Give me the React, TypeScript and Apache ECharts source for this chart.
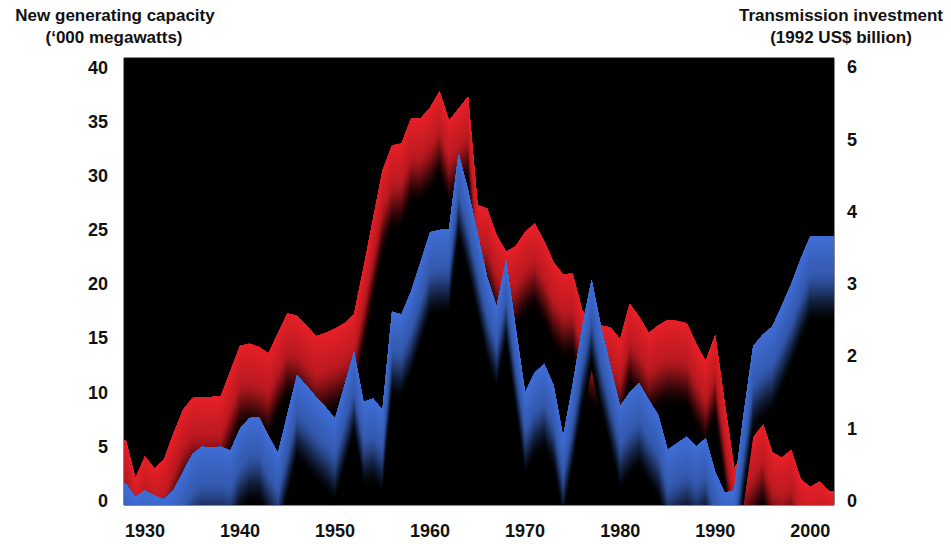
import React, { useEffect, useRef } from "react";
import * as echarts from "echarts";

const years = [
  1928, 1929, 1930, 1931, 1932, 1933, 1934, 1935, 1936, 1937,
  1938, 1939, 1940, 1941, 1942, 1943, 1944, 1945, 1946, 1947,
  1948, 1949, 1950, 1951, 1952, 1953, 1954, 1955, 1956, 1957,
  1958, 1959, 1960, 1961, 1962, 1963, 1964, 1965, 1966, 1967,
  1968, 1969, 1970, 1971, 1972, 1973, 1974, 1975, 1976, 1977,
  1978, 1979, 1980, 1981, 1982, 1983, 1984, 1985, 1986, 1987,
  1988, 1989, 1990, 1991, 1992, 1993, 1994, 1995, 1996, 1997,
  1998, 1999, 2000, 2001, 2002,
];

// New generating capacity ('000 MW), left axis
const capacity = [
  5.6, 2.1, 4.1, 3.0, 3.8, 6.2, 8.4, 9.5, 9.6, 9.6,
  9.7, 12.0, 14.3, 14.5, 14.2, 13.6, 15.5, 17.3, 17.1, 16.2,
  15.2, 15.5, 15.9, 16.4, 17.2, 21.5, 26.0, 30.5, 32.8, 33.0,
  35.3, 35.3, 36.3, 37.8, 35.1, 36.2, 37.3, 27.3, 27.0, 24.5,
  23.0, 23.5, 24.8, 25.6, 24.0, 22.0, 20.9, 21.0, 17.6, 16.5,
  16.2, 16.0, 14.9, 18.2, 17.0, 15.5, 16.2, 16.7, 16.6, 16.4,
  14.5, 12.9, 15.3, 9.0, 3.0, 4.5, 5.8, 7.2, 4.5, 4.0,
  4.7, 2.0, 1.3, 1.8, 0.9,
];

// Transmission investment (1992 US$ billion), right axis
const transmission = [
  0.24, 0.06, 0.15, 0.08, 0.02, 0.15, 0.4, 0.65, 0.75, 0.74,
  0.75, 0.7, 1.0, 1.15, 1.16, 0.9, 0.66, 1.2, 1.74, 1.6,
  1.44, 1.3, 1.14, 1.6, 2.07, 1.37, 1.42, 1.26, 2.62, 2.58,
  2.9, 3.3, 3.72, 3.75, 3.76, 4.81, 4.3, 3.7, 3.1, 2.69,
  3.34, 2.4, 1.5, 1.77, 1.9, 1.6, 0.89, 1.6, 2.4, 3.06,
  2.4, 1.85, 1.31, 1.5, 1.63, 1.4, 1.19, 0.71, 0.8, 0.89,
  0.75, 0.87, 0.4, 0.11, 0.15, 1.2, 2.14, 2.3, 2.41, 2.7,
  3.0, 3.35, 3.66, 3.66, 3.66,
];

const leftTicks = [0, 5, 10, 15, 20, 25, 30, 35, 40];
const rightTicks = [0, 1, 2, 3, 4, 5, 6];
const yearTicks = [1930, 1940, 1950, 1960, 1970, 1980, 1990, 2000];

const leftTitle = ["New generating capacity", "(\u2018000 megawatts)"];
const rightTitle = ["Transmission investment", "(1992 US$ billion)"];

const RED = [230, 32, 40];
const BLUE = [64, 110, 214];
const DEPTH = 90;
const STEP = 2;

const smooth = (t: number) => {
  const c = Math.min(1, Math.max(0, t));
  return c * c * (3 - 2 * c);
};
const fade = (d: number) =>
  d < 30 ? 1 - (0.15 * d) / 30 : 0.85 * (1 - smooth((d - 30) / 58));

const makeRender = (rgb: number[]) => (params: any, api: any) => {
  if (params.dataIndexInside !== 0) return null;
  const n = params.dataInsideLength;
  const pts: number[][] = [];
  for (let i = 0; i < n; i++) {
    pts.push(api.coord([api.value(0, i), api.value(1, i)]));
  }
  const cs = params.coordSys;
  pts.unshift([cs.x - 2, pts[0][1]]);
  pts.push([cs.x + cs.width + 2, pts[pts.length - 1][1]]);
  const rev = pts.slice().reverse();
  const children: any[] = [];
  for (let d = DEPTH; d > 0; d -= STEP) {
    const f = Math.max(0, fade(d - STEP / 2));
    const col = `rgb(${Math.round(rgb[0] * f)},${Math.round(rgb[1] * f)},${Math.round(rgb[2] * f)})`;
    const poly = pts.concat(rev.map((p) => [p[0], p[1] + d]));
    children.push({
      type: "polygon",
      silent: true,
      shape: { points: poly },
      style: { fill: col },
    });
  }
  return { type: "group", children };
};

const labelFont = {
  fontFamily: '"Liberation Sans", Arial, sans-serif',
  fontWeight: "bold" as const,
  fontSize: 18,
  color: "#111",
};

export default function App() {
  const ref = useRef<HTMLDivElement>(null);
  useEffect(() => {
    if (!ref.current) return;
    const chart = echarts.init(ref.current, null, { renderer: "svg" });
    const titleStyle = (text: string, x: number, y: number) => ({
      type: "text",
      x,
      y,
      style: {
        text,
        textAlign: "center",
        textVerticalAlign: "middle",
        fontFamily: '"Liberation Sans", Arial, sans-serif',
        fontWeight: "bold",
        fontSize: 17,
        fill: "#111",
      },
    });
    chart.setOption({
      animation: false,
      backgroundColor: "#fff",
      grid: {
        left: 124,
        right: 117,
        top: 58,
        bottom: 39,
        show: true,
        backgroundColor: "#000",
        borderColor: "#111",
        borderWidth: 1,
      },
      xAxis: {
        type: "value",
        min: 1927.8,
        max: 2002.5,
        splitLine: { show: false },
        axisTick: { show: false },
        axisLine: { show: false },
        axisLabel: {
          ...labelFont,
          margin: 17,
          customValues: yearTicks,
          formatter: (v: number) => String(v),
        },
      },
      yAxis: [
        {
          type: "value",
          min: -0.37,
          max: 40.88,
          splitLine: { show: false },
          axisTick: { show: false },
          axisLine: { show: false },
          axisLabel: {
            ...labelFont,
            margin: 16,
            customValues: leftTicks,
            formatter: (v: number) => String(v),
          },
        },
        {
          type: "value",
          min: -0.055,
          max: 6.13,
          position: "right",
          splitLine: { show: false },
          axisTick: { show: false },
          axisLine: { show: false },
          axisLabel: {
            ...labelFont,
            margin: 13,
            customValues: rightTicks,
            formatter: (v: number) => String(v),
          },
        },
      ],
      graphic: [
        titleStyle(leftTitle[0], 115, 15),
        titleStyle(leftTitle[1], 114, 37),
        titleStyle(rightTitle[0], 841, 15),
        titleStyle(rightTitle[1], 841, 37),
      ],
      series: [
        {
          type: "custom",
          name: "New generating capacity",
          xAxisIndex: 0,
          yAxisIndex: 0,
          clip: true,
          data: years.map((y, i) => [y, capacity[i]]),
          renderItem: makeRender(RED),
        },
        {
          type: "custom",
          name: "Transmission investment",
          xAxisIndex: 0,
          yAxisIndex: 1,
          clip: true,
          data: years.map((y, i) => [y, transmission[i]]),
          renderItem: makeRender(BLUE),
        },
      ],
    });
    return () => chart.dispose();
  }, []);
  return (
    <div
      ref={ref}
      style={{ position: "absolute", left: 0, top: 0, width: 951, height: 544 }}
    />
  );
}
